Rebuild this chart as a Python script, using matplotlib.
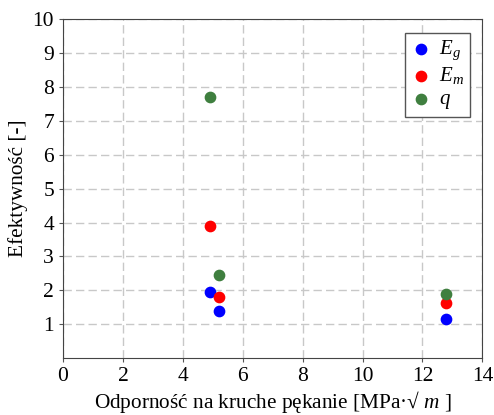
import matplotlib
matplotlib.use("Agg")
import matplotlib.pyplot as plt

plt.rcParams["font.family"] = ["Liberation Serif", "DejaVu Serif"]
plt.rcParams["mathtext.fontset"] = "custom"
plt.rcParams["mathtext.it"] = "Liberation Serif:italic"
plt.rcParams["mathtext.rm"] = "Liberation Serif"

# odporność na kruche pękanie [MPa·√m]
k_ic = [4.9, 5.2, 12.8]
e_g = [1.95, 1.4, 1.15]
e_m = [3.9, 1.8, 1.63]
q = [7.7, 2.45, 1.9]

fig = plt.figure(figsize=(4.94, 4.15), dpi=100)
ax = fig.add_axes([0.1275, 0.137, 0.849, 0.817])

ax.scatter(k_ic, e_g, s=55, color="#0000ff", label="$E_g$", zorder=3)
ax.scatter(k_ic, e_m, s=55, color="#ff0000", label="$E_m$", zorder=3)
ax.scatter(k_ic, q, s=55, color="#3f7f3f", label="$q$", zorder=3)

ax.set_xlim(0, 14)
ax.set_ylim(0, 10)
ax.set_xticks(range(0, 15, 2))
ax.set_yticks(range(1, 11))
ax.tick_params(labelsize=15.5, length=3, color="#555555")
ax.grid(True, linestyle=(0, (6, 3)), color="#c8c8c8", linewidth=1)
for sp in ax.spines.values():
    sp.set_color("#444444")

ax.set_xlabel("Odporność na kruche pękanie [MPa·√ $m$ ]", fontsize=15.3, labelpad=2)
ax.set_ylabel("Efektywność [-]", fontsize=15.3, labelpad=3)

leg = ax.legend(loc="upper right", fontsize=15, fancybox=False, framealpha=1,
                edgecolor="#555555", handletextpad=0.4, borderpad=0.3,
                labelspacing=0.15, handlelength=0.9, markerscale=1.0,
                borderaxespad=0.4, bbox_to_anchor=(0.99, 0.985))

fig.savefig("out.png", dpi=100)
